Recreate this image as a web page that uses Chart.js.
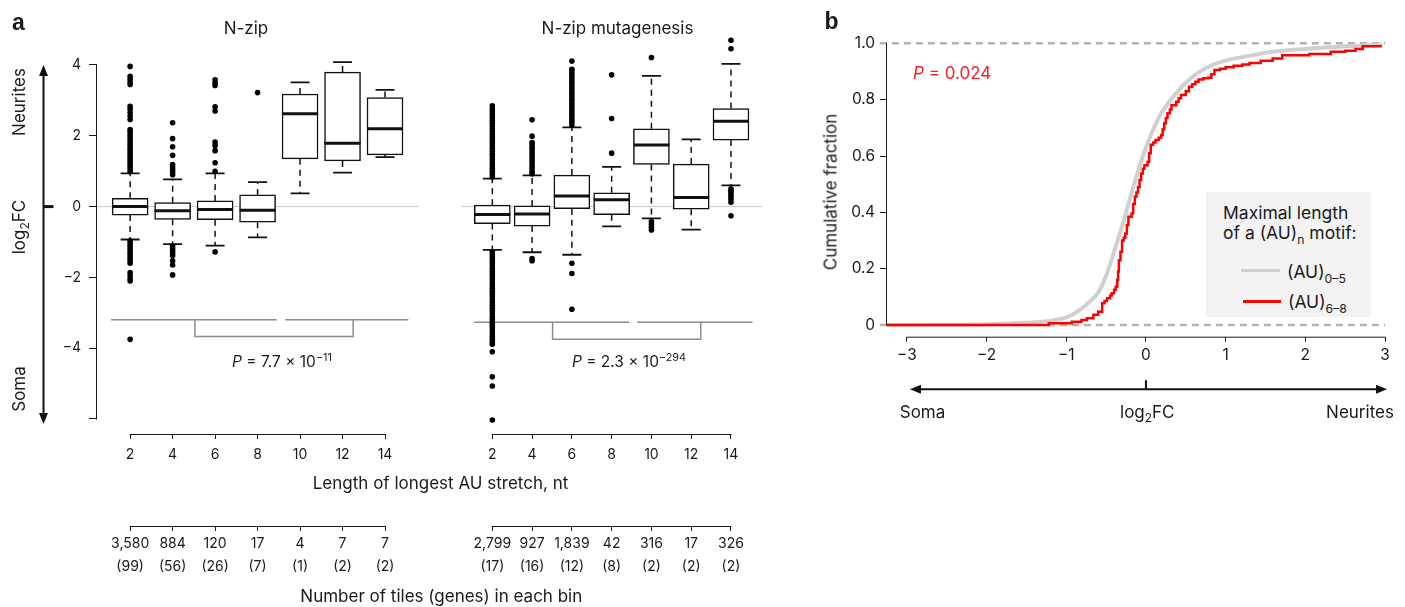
<!DOCTYPE html>
<html>
<head>
<meta charset="utf-8">
<script src="https://cdn.jsdelivr.net/npm/chart.js@4.4.1/dist/chart.umd.min.js"></script>
<style>
  body { margin: 0; background: #fff; }
  #fig { position: relative; width: 1405px; height: 607px; overflow: hidden;
         font-family: Inter, Roboto, sans-serif; color: #1a1a1a; }
  #fig canvas { position: absolute; top: 0; }
  .t { position: absolute; white-space: nowrap; font-size: 17px; line-height: 1;
       transform: translate(-50%, -50%); }
  .l { transform: translate(0, -50%); }
  .rot { transform: translate(-50%, -50%) rotate(-90deg); }
  .pv { font-size: 15.5px; }
  .pl { font-family: "Liberation Sans", Arial, sans-serif; font-weight: bold; font-size: 23px; }
  sub, sup { font-size: 0.7em; line-height: 0; }
  #leg { position: absolute; left: 1206px; top: 192px; width: 165px; height: 125px; background: #f3f3f3; }
  #leg .t { font-size: 17.5px; }
  .sw { position: absolute; height: 3px; }
</style>
</head>
<body>
<div id="fig">
  <canvas id="cA1" width="440" height="607" style="left:0"></canvas>
  <canvas id="cA2" width="343" height="607" style="left:440px"></canvas>
  <canvas id="cB" width="605" height="607" style="left:800px"></canvas>

  <div class="t pl" style="left:18.5px;top:21.5px">a</div>
  <div class="t" style="left:246px;top:28px">N-zip</div>
  <div class="t" style="left:617.5px;top:28px">N-zip mutagenesis</div>
  <div class="t rot" style="left:19px;top:101.7px">Neurites</div>
  <div class="t rot" style="left:19px;top:226.7px">log<sub>2</sub>FC</div>
  <div class="t rot" style="left:19px;top:388.5px">Soma</div>
  <div class="t pv" style="left:282px;top:362px"><i>P</i> = 7.7 × 10<sup>−11</sup></div>
  <div class="t pv" style="left:629px;top:362px"><i>P</i> = 2.3 × 10<sup>−294</sup></div>
  <div class="t" style="left:440.5px;top:483.3px">Length of longest AU stretch, nt</div>
  <div class="t" style="left:441.3px;top:595.5px">Number of tiles (genes) in each bin</div>

  <div class="t pl" style="left:831.5px;top:20.5px">b</div>
  <div class="t rot" style="left:831px;top:192px">Cumulative fraction</div>
  <div class="t l" style="left:913px;top:72.7px;color:#ff2020">
    <i>P</i> = 0.024</div>
  <div class="t" style="left:922.5px;top:411.7px">Soma</div>
  <div class="t" style="left:1147.3px;top:411.7px">log<sub>2</sub>FC</div>
  <div class="t" style="left:1360px;top:411.7px">Neurites</div>
  <div id="leg">
    <div class="t l" style="left:17px;top:20.7px">Maximal length</div>
    <div class="t l" style="left:17px;top:41.3px">of a (AU)<sub>n</sub> motif:</div>
    <div class="sw" style="left:35px;top:76.5px;width:38.6px;background:#d0d0d0"></div>
    <div class="t l" style="left:81px;top:79.7px">(AU)<sub>0–5</sub></div>
    <div class="sw" style="left:37px;top:107.5px;width:38.3px;background:#ff0000"></div>
    <div class="t l" style="left:82px;top:109.7px">(AU)<sub>6–8</sub></div>
  </div>
</div>

<script>
// ---- panel a: bins of longest AU stretch (nt)
const bins = [2, 4, 6, 8, 10, 12, 14];

const zipTiles = ['3,580', '884', '120', '17', '4', '7', '7'];
const zipGenes = ['(99)', '(56)', '(26)', '(7)', '(1)', '(2)', '(2)'];
const mutTiles = ['2,799', '927', '1,839', '42', '316', '17', '326'];
const mutGenes = ['(17)', '(16)', '(12)', '(8)', '(2)', '(2)', '(2)'];

// N-zip box stats (log2FC)
const zipLow  = [-0.93, -1.06, -1.10, -0.87, 0.375, 0.96, 1.40];
const zipQ1   = [-0.24, -0.36, -0.37, -0.44, 1.35, 1.29, 1.46];
const zipMed  = [0.00, -0.12, -0.08, -0.10, 2.62, 1.79, 2.20];
const zipQ3   = [0.235, 0.11, 0.16, 0.33, 3.18, 3.80, 3.08];
const zipHigh = [0.94, 0.77, 0.94, 0.69, 3.51, 4.08, 3.30];
const zipOut = [
  [3.96, 3.68, 3.6, 3.52, 3.45, 2.83, 2.75, 2.66, 2.56, 2.46, 2.18, 2.12, 2.05, 1.98, 1.9, 1.83,
   1.76, 1.69, 1.62, 1.55, 1.48, 1.41, 1.34, 1.27, 1.2, 1.13, 1.06, 0.99,
   -0.97, -1.04, -1.11, -1.18, -1.25, -1.32, -1.39, -1.46, -1.53, -1.6, -1.86, -1.95, -2.04, -2.1, -3.75],
  [2.37, 1.92, 1.69, 1.45, 1.19, 1.12, 1.05, 0.98, 0.9, -1.1, -1.17, -1.24, -1.31, -1.38, -1.53, -1.65, -1.93],
  [3.58, 3.5, 3.42, 2.82, 2.7, 1.82, 1.72, 1.58, 1.24, 1.0, -1.28],
  [3.22],
  [], [], []
];

// N-zip mutagenesis box stats
const mutLow  = [-1.22, -1.29, -1.36, -0.56, -0.33, -0.65, 0.60];
const mutQ1   = [-0.48, -0.55, -0.06, -0.23, 1.19, -0.075, 1.88];
const mutMed  = [-0.22, -0.21, 0.30, 0.19, 1.74, 0.26, 2.41];
const mutQ3   = [0.04, 0.02, 0.89, 0.39, 2.20, 1.20, 2.77];
const mutHigh = [0.79, 0.88, 2.24, 1.12, 3.69, 1.90, 4.03];
const mutOut = [
  [0.84, 0.92, 1.0, 1.08, 1.16, 1.24, 1.32, 1.4, 1.48, 1.56, 1.64, 1.72, 1.8, 1.88, 1.96, 2.04, 2.12,
   2.2, 2.28, 2.36, 2.44, 2.52, 2.6, 2.68, 2.76, 2.85,
   -1.27, -1.35, -1.43, -1.51, -1.59, -1.67, -1.75, -1.83, -1.91, -1.99, -2.07, -2.15, -2.23, -2.31,
   -2.39, -2.47, -2.55, -2.63, -2.71, -2.79, -2.87, -2.95, -3.03, -3.11, -3.19, -3.27, -3.35, -3.43,
   -3.51, -3.59, -3.67, -3.75, -3.83, -3.89, -4.1, -4.81, -5.07, -6.03],
  [0.93, 1.0, 1.08, 1.15, 1.23, 1.3, 1.38, 1.46, 1.53, 1.61, 1.68, 1.76, 1.81, 1.99, 2.45, -1.47, -1.53],
  [2.3, 2.38, 2.45, 2.53, 2.61, 2.68, 2.76, 2.84, 2.92, 3.0, 3.07, 3.15, 3.22, 3.3, 3.38, 3.46, 3.53,
   3.61, 3.69, 3.76, 3.84, 3.88, 4.11, -1.6, -1.89, -2.9],
  [1.51, 2.49, 3.72],
  [4.21, -0.42, -0.5, -0.58, -0.66],
  [],
  [4.7, 4.46, 0.5, 0.45, 0.4, 0.33, 0.27, 0.2, 0.12, -0.26]
];

// ---- panel b: cumulative fraction of log2FC
const greyX = [-3.25, -2.5, -2.0, -1.6, -1.3, -1.1, -0.95, -0.8, -0.7, -0.6, -0.5, -0.4, -0.3, -0.2,
               -0.1, 0.0, 0.1, 0.2, 0.3, 0.4, 0.5, 0.65, 0.85, 1.05, 1.3, 1.6, 2.0, 2.4, 2.8, 2.97];
const greyY = [0, 0.001, 0.003, 0.007, 0.012, 0.02, 0.033, 0.06, 0.085, 0.115, 0.175, 0.26, 0.35, 0.45,
               0.545, 0.63, 0.70, 0.755, 0.795, 0.83, 0.86, 0.895, 0.925, 0.942, 0.956, 0.97, 0.98, 0.988, 0.993, 0.995];
const redX = [-3.25, -1.22, -0.93, -0.81, -0.74, -0.66, -0.60, -0.55, -0.52, -0.49, -0.45, -0.43, -0.40,
              -0.38, -0.36, -0.35, -0.34, -0.32, -0.30, -0.28, -0.26, -0.24, -0.22, -0.18, -0.16, -0.14,
              -0.12, -0.10, -0.08, -0.06, -0.04, -0.02, 0.02, 0.04, 0.06, 0.09, 0.12, 0.16, 0.19, 0.21,
              0.23, 0.25, 0.27, 0.30, 0.32, 0.38, 0.41, 0.44, 0.50, 0.54, 0.58, 0.62, 0.66, 0.72, 0.78,
              0.82, 0.86, 0.93, 1.0, 1.1, 1.21, 1.3, 1.44, 1.59, 1.71, 2.05, 2.32, 2.5, 2.63, 2.72, 2.96];
const redY = [0, 0.006, 0.012, 0.018, 0.024, 0.036, 0.047, 0.077, 0.085, 0.095, 0.105, 0.113, 0.125,
              0.136, 0.16, 0.19, 0.23, 0.26, 0.30, 0.31, 0.325, 0.355, 0.384, 0.396, 0.43, 0.455,
              0.47, 0.49, 0.515, 0.538, 0.555, 0.567, 0.58, 0.61, 0.64, 0.648, 0.657, 0.665, 0.675, 0.695,
              0.716, 0.735, 0.752, 0.765, 0.78, 0.793, 0.805, 0.817, 0.83, 0.846, 0.855, 0.864, 0.872, 0.876, 0.878,
              0.89, 0.905, 0.91, 0.915, 0.92, 0.925, 0.93, 0.938, 0.946, 0.958, 0.962, 0.97, 0.974, 0.98, 0.99, 0.99];
const yTicksA = [-6, -4, -2, 0, 2, 4];
const xTicksB = [-3, -2, -1, 0, 1, 2, 3];
const yTicksB = [0, 0.2, 0.4, 0.6, 0.8, 1.0];

Chart.defaults.font.family = 'Inter, Roboto, sans-serif';
Chart.defaults.color = '#1a1a1a';

const ink = '#1a1a1a';
const minus = v => (v < 0 ? '\u2212' + Math.abs(v) : String(v));

// R-style axis lines that only run between the first and last tick
const axisLines = {
  id: 'axisLines',
  afterDraw(chart, args, opts) {
    const ctx = chart.ctx;
    ctx.save();
    ctx.strokeStyle = ink;
    ctx.lineWidth = 1;
    for (const id in opts.spans) {
      const s = chart.scales[id], a = opts.spans[id][0], b = opts.spans[id][1];
      ctx.beginPath();
      if (s.isHorizontal()) {
        ctx.moveTo(s.getPixelForValue(a) - 0.5, s.top + 0.5);
        ctx.lineTo(s.getPixelForValue(b) + 0.5, s.top + 0.5);
      } else {
        ctx.moveTo(s.right - 0.5, s.getPixelForValue(a) + 0.5);
        ctx.lineTo(s.right - 0.5, s.getPixelForValue(b) - 0.5);
      }
      ctx.stroke();
    }
    ctx.restore();
  }
};

function head(ctx, x, y, dx, dy) {
  // arrow head pointing along (dx, dy)
  const L = 11, W = 4.5;
  ctx.beginPath();
  ctx.moveTo(x, y);
  ctx.lineTo(x - dx * L - dy * W, y - dy * L - dx * W);
  ctx.lineTo(x - dx * L + dy * W, y - dy * L + dx * W);
  ctx.closePath();
  ctx.fill();
}

// vertical Soma <-> Neurites arrow of panel a
const sideArrow = {
  id: 'sideArrow',
  afterDraw(chart) {
    const s = chart.scales.y, ctx = chart.ctx;
    const x = s.left - 13.5, y0 = s.getPixelForValue(4), y1 = s.getPixelForValue(-6) + 5;
    ctx.save();
    ctx.strokeStyle = ctx.fillStyle = '#111';
    ctx.lineWidth = 2;
    ctx.beginPath(); ctx.moveTo(x, y0 + 8); ctx.lineTo(x, y1 - 8); ctx.stroke();
    head(ctx, x, y0, 0, -1);
    head(ctx, x, y1, 0, 1);
    ctx.lineWidth = 3;
    const yz = s.getPixelForValue(0);
    ctx.beginPath(); ctx.moveTo(x, yz); ctx.lineTo(x + 10, yz); ctx.stroke();
    ctx.restore();
  }
};

// horizontal Soma <-> Neurites arrow of panel b
const bottomArrow = {
  id: 'bottomArrow',
  afterDraw(chart) {
    const s = chart.scales.x, ctx = chart.ctx;
    const y = s.top + 52.5;
    const x0 = s.getPixelForValue(-3) + 3, x1 = s.getPixelForValue(3) + 2, xm = s.getPixelForValue(0);
    ctx.save();
    ctx.strokeStyle = ctx.fillStyle = '#111';
    ctx.lineWidth = 2;
    ctx.beginPath(); ctx.moveTo(x0 + 8, y); ctx.lineTo(x1 - 8, y); ctx.stroke();
    head(ctx, x0, y, -1, 0);
    head(ctx, x1, y, 1, 0);
    ctx.beginPath(); ctx.moveTo(xm, y - 9); ctx.lineTo(xm, y); ctx.stroke();
    ctx.restore();
  }
};

function boxDatasets(low, q1, med, q3, high, out, xr, brk) {
  const boxes = bins.map((b, i) => ({ x: b, y: [q1[i], q3[i]] }));
  const meds = bins.map((b, i) => ({ x: b, y: med[i] }));
  const caps = [], whisk = [], pts = [];
  bins.forEach((b, i) => {
    caps.push({ x: b, y: low[i] }, { x: b, y: high[i] });
    whisk.push({ x: b, y: q3[i] }, { x: b, y: high[i] }, { x: b, y: null });
    whisk.push({ x: b, y: q1[i] }, { x: b, y: low[i] }, { x: b, y: null });
    out[i].forEach(v => pts.push({ x: b, y: v }));
  });
  const line = brk.line, foot = brk.foot;
  const bracket = [
    { x: brk.g1[0], y: line }, { x: brk.g1[1], y: line }, { x: brk.g1[1], y: null },
    { x: brk.g2[0], y: line }, { x: brk.g2[1], y: line }, { x: brk.g2[1], y: null },
    { x: brk.mid[0], y: line }, { x: brk.mid[0], y: foot }, { x: brk.mid[1], y: foot }, { x: brk.mid[1], y: line }
  ];
  return [
    { type: 'line', data: [{ x: xr[0], y: 0 }, { x: xr[1], y: 0 }], borderColor: '#c8c8c8',
      borderWidth: 1, pointRadius: 0, order: 10 },
    { type: 'line', data: bracket, borderColor: '#8c8c8c', borderWidth: 1.5, pointRadius: 0,
      spanGaps: false, order: 9 },
    { type: 'line', data: whisk, borderColor: '#111', borderWidth: 1.5, borderDash: [6, 5],
      pointRadius: 0, spanGaps: false, order: 8 },
    { type: 'bar', data: boxes, backgroundColor: '#fff', borderColor: '#111', borderWidth: 1.5,
      borderSkipped: false, barThickness: 36, grouped: false, order: 7 },
    { type: 'scatter', data: meds, pointStyle: 'line', pointRadius: 18, pointBorderWidth: 3,
      pointBorderColor: '#111', order: 6 },
    { type: 'scatter', data: caps, pointStyle: 'line', pointRadius: 9.5, pointBorderWidth: 1.8,
      pointBorderColor: '#111', order: 5 },
    { type: 'scatter', data: pts, pointRadius: 2.8, pointBorderWidth: 0, pointBackgroundColor: '#000', order: 4 }
  ];
}

function xAxes(xr, tiles, genes) {
  const common = {
    type: 'linear', position: 'bottom', min: xr[0], max: xr[1],
    afterBuildTicks: s => { s.ticks = bins.map(v => ({ value: v })); },
    grid: { drawOnChartArea: false, tickLength: 5, color: ink, offset: false },
    border: { display: false }, offset: false
  };
  return {
    x: Object.assign({}, common, {
      weight: 0,
      afterFit: s => { s.height = 92; },
      ticks: { font: { size: 14 }, padding: 7, autoSkip: false, maxRotation: 0 }
    }),
    x2: Object.assign({}, common, {
      weight: 1,
      afterFit: s => { s.height = 59; },
      ticks: { font: { size: 14, lineHeight: 1.6 }, padding: 2, autoSkip: false, maxRotation: 0,
               callback: (v, i) => [tiles[i], genes[i]] }
    })
  };
}

const yA = {
  type: 'linear', min: -6.424, max: 5.0,
  afterBuildTicks: s => { s.ticks = yTicksA.map(v => ({ value: v })); },
  grid: { drawOnChartArea: false, tickLength: 8, color: ink },
  border: { display: false },
  ticks: { font: { size: 14 }, padding: 8, callback: v => (v === -6 ? '' : minus(v)) }
};

// left box panel: N-zip
const xrZip = [0.44, 15.6];
new Chart(document.getElementById('cA1'), {
  type: 'scatter',
  data: { datasets: boxDatasets(zipLow, zipQ1, zipMed, zipQ3, zipHigh, zipOut, xrZip,
    { line: -3.2, foot: -3.67, g1: [1.1, 8.9], g2: [9.3, 15.1], mid: [5.05, 12.5] }) },
  options: {
    responsive: false, animation: false, events: [],
    layout: { padding: { left: 57, right: 0, top: 29.6, bottom: 22 } },
    plugins: { legend: { display: false }, tooltip: { enabled: false },
               axisLines: { spans: { x: [2, 14], x2: [2, 14], y: [-6, 4] } } },
    scales: Object.assign(xAxes(xrZip, zipTiles, zipGenes), {
      y: Object.assign({}, yA, { afterFit: s => { s.width = 40; } })
    })
  },
  plugins: [axisLines, sideArrow]
});

// right box panel: N-zip mutagenesis
const xrMut = [0.425, 15.56];
new Chart(document.getElementById('cA2'), {
  type: 'scatter',
  data: { datasets: boxDatasets(mutLow, mutQ1, mutMed, mutQ3, mutHigh, mutOut, xrMut,
    { line: -3.27, foot: -3.75, g1: [1.09, 8.88], g2: [9.28, 15.08], mid: [5.03, 12.48] }) },
  options: {
    responsive: false, animation: false, events: [],
    layout: { padding: { left: 0, right: 0, top: 29.6, bottom: 22 } },
    plugins: { legend: { display: false }, tooltip: { enabled: false },
               axisLines: { spans: { x: [2, 14], x2: [2, 14] } } },
    scales: Object.assign(xAxes(xrMut, mutTiles, mutGenes), {
      y: Object.assign({}, yA, { display: false })
    })
  },
  plugins: [axisLines]
});

// panel b: cumulative distributions
new Chart(document.getElementById('cB'), {
  type: 'line',
  data: {
    datasets: [
      { data: redX.map((x, i) => ({ x: x, y: redY[i] })), borderColor: '#ff0000', borderWidth: 2.5,
        pointRadius: 0, stepped: true, order: 1 },
      { data: greyX.map((x, i) => ({ x: x, y: greyY[i] })), borderColor: '#d0d0d0', borderWidth: 4,
        pointRadius: 0, cubicInterpolationMode: 'monotone', order: 2 },
      { data: [{ x: -3.34, y: 0 }, { x: 3.0, y: 0 }, { x: 3.0, y: null }, { x: -3.34, y: 1 }, { x: 3.0, y: 1 }],
        borderColor: '#b3b3b3', borderWidth: 2.5, borderDash: [7, 5], pointRadius: 0, spanGaps: false,
        clip: false, order: 3 }
    ]
  },
  options: {
    responsive: false, animation: false, events: [],
    layout: { padding: { left: 27, right: 20, top: 37.7, bottom: 200.3 } },
    plugins: { legend: { display: false }, tooltip: { enabled: false },
               axisLines: { spans: { x: [-3, 3], y: [0, 1] } } },
    scales: {
      x: {
        type: 'linear', min: -3.25, max: 3.0,
        afterBuildTicks: s => { s.ticks = xTicksB.map(v => ({ value: v })); },
        afterFit: s => { s.height = 70; },
        grid: { drawOnChartArea: false, tickLength: 5, color: ink },
        border: { display: false },
        ticks: { font: { size: 15.5 }, padding: 4.7, maxRotation: 0, callback: v => minus(v) }
      },
      y: {
        type: 'linear', min: -0.0415, max: 1.02,
        afterBuildTicks: s => { s.ticks = yTicksB.map(v => ({ value: v })); },
        afterFit: s => { s.width = 60; },
        grid: { drawOnChartArea: false, tickLength: 7, color: ink },
        border: { display: false },
        ticks: { font: { size: 15.5 }, padding: 5, callback: v => (v === 0 ? '0' : v.toFixed(1)) }
      }
    }
  },
  plugins: [axisLines, bottomArrow]
});
</script>
</body>
</html>
